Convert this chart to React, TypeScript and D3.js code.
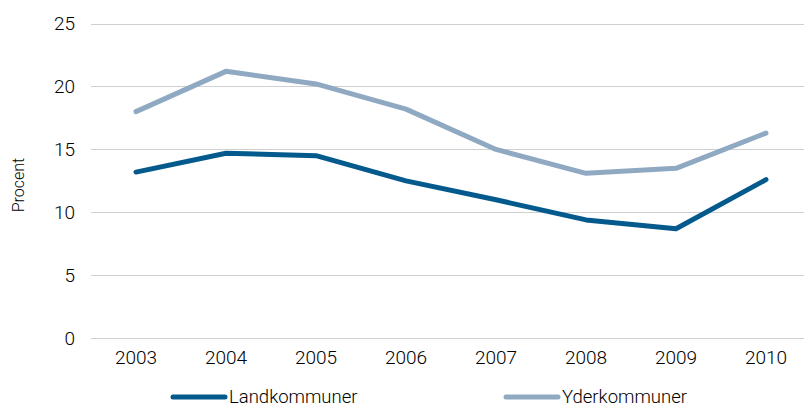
import React, { useEffect, useRef } from 'react';
import * as d3 from 'd3';

const years = ['2003', '2004', '2005', '2006', '2007', '2008', '2009', '2010'];
const landkommuner = [13.2, 14.7, 14.5, 12.5, 11.0, 9.4, 8.7, 12.6];
const yderkommuner = [18.0, 21.2, 20.2, 18.2, 15.0, 13.1, 13.5, 16.3];
const yTicks = [0, 5, 10, 15, 20, 25];

const series = [
  { name: 'Landkommuner', values: landkommuner, color: '#045a8d' },
  { name: 'Yderkommuner', values: yderkommuner, color: '#8fa9c2' },
];

const App: React.FC = () => {
  const ref = useRef<SVGSVGElement>(null);

  useEffect(() => {
    const svg = d3.select(ref.current);
    svg.selectAll('*').remove();
    const font = 'Roboto, "Noto Sans", sans-serif';

    const x = d3.scaleBand().domain(years).range([91, 811]);
    const y = d3.scaleLinear().domain([0, 25]).range([338.3, 23.5]);

    // grid lines
    svg
      .append('g')
      .selectAll('line')
      .data(yTicks)
      .enter()
      .append('line')
      .attr('x1', 91)
      .attr('x2', 804)
      .attr('y1', (d) => Math.round(y(d)) + 0.5)
      .attr('y2', (d) => Math.round(y(d)) + 0.5)
      .attr('stroke', '#d0d0d0')
      .attr('stroke-width', 1.2);

    // y tick labels
    svg
      .append('g')
      .selectAll('text')
      .data(yTicks)
      .enter()
      .append('text')
      .attr('x', 75)
      .attr('y', (d) => y(d))
      .attr('dy', '0.35em')
      .attr('text-anchor', 'end')
      .attr('font-family', font)
      .attr('font-weight', 300)
      .attr('font-size', 19)
      .attr('fill', '#000')
      .text((d) => d);

    // x tick labels
    svg
      .append('g')
      .selectAll('text')
      .data(years)
      .enter()
      .append('text')
      .attr('x', (d) => x(d)! + x.bandwidth() / 2)
      .attr('y', 364)
      .attr('text-anchor', 'middle')
      .attr('font-family', font)
      .attr('font-weight', 300)
      .attr('font-size', 19)
      .attr('fill', '#000')
      .text((d) => d);

    // y axis title
    svg
      .append('text')
      .attr('transform', 'translate(24,185) rotate(-90)')
      .attr('text-anchor', 'middle')
      .attr('font-family', font)
      .attr('font-weight', 300)
      .attr('font-size', 16)
      .attr('fill', '#000')
      .text('Procent');

    const line = d3
      .line<number>()
      .x((_, i) => x(years[i])! + x.bandwidth() / 2)
      .y((d) => y(d));

    series
      .slice()
      .reverse()
      .forEach((s) => {
        svg
          .append('path')
          .attr('d', line(s.values))
          .attr('fill', 'none')
          .attr('stroke', s.color)
          .attr('stroke-width', 5)
          .attr('stroke-linecap', 'round')
          .attr('stroke-linejoin', 'round');
      });

    // legend
    const legendX = [171, 504];
    series.forEach((s, i) => {
      const g = svg.append('g').attr('transform', `translate(${legendX[i]},397)`);
      g.append('line')
        .attr('x1', 2)
        .attr('x2', 54)
        .attr('y1', 0)
        .attr('y2', 0)
        .attr('stroke', s.color)
        .attr('stroke-width', 5)
        .attr('stroke-linecap', 'round');
      g.append('text')
        .attr('x', 58)
        .attr('y', 0)
        .attr('dy', '0.33em')
        .attr('font-family', font)
        .attr('font-weight', 300)
        .attr('font-size', 18.5)
        .attr('fill', '#000')
        .text(s.name);
    });
  }, []);

  return (
    <svg
      ref={ref}
      width={804}
      height={407}
      style={{ position: 'absolute', left: 0, top: 0, background: '#fff' }}
    />
  );
};

export default App;
